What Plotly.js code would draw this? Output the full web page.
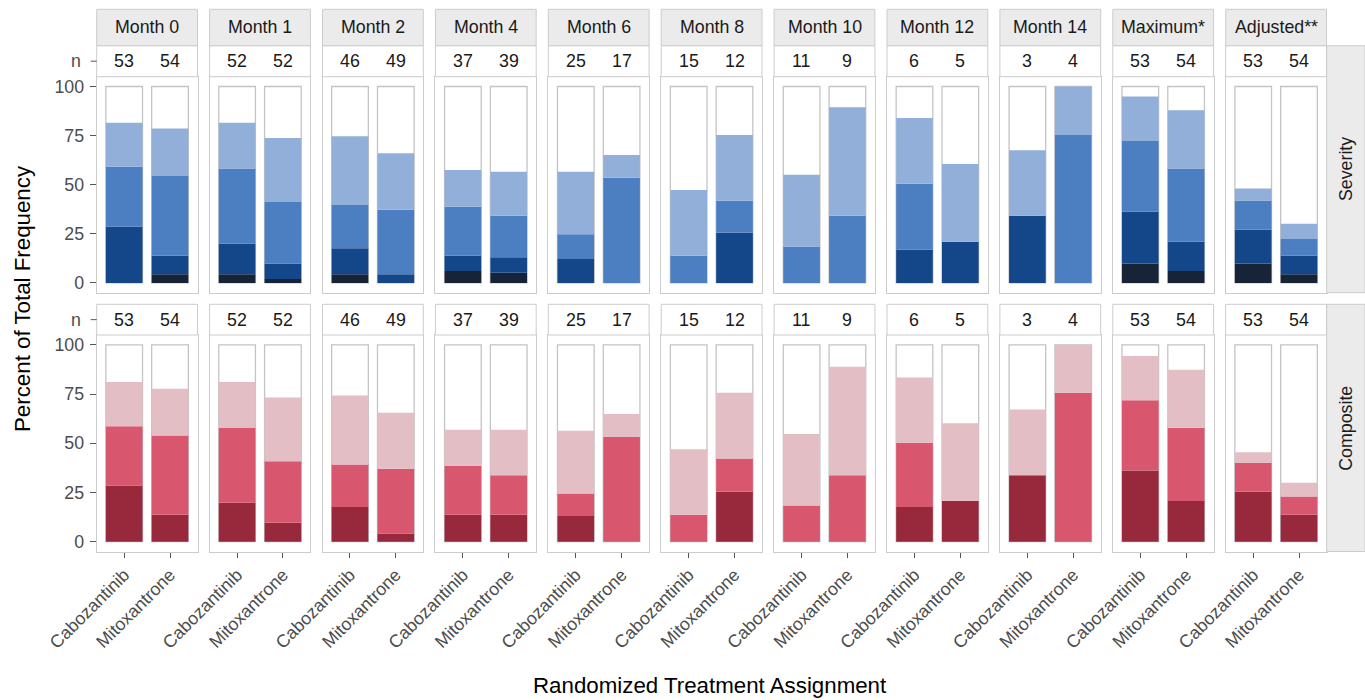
<!DOCTYPE html>
<html>
<head>
<meta charset="utf-8">
<script src="https://cdn.plot.ly/plotly-3.0.1.min.js"></script>
<style>html,body{margin:0;padding:0;background:#fff;}#chart{width:1365px;height:700px;}</style>
</head>
<body>
<div id="chart"></div>
<script>
// ---------- DATA ----------
const panels = ['Month 0','Month 1','Month 2','Month 4','Month 6','Month 8','Month 10','Month 12','Month 14','Maximum*','Adjusted**'];
const arms = ['Cabozantinib','Mitoxantrone'];
const nCabo = [53,52,46,37,25,15,11,6,3,53,53];
const nMito = [54,52,49,39,17,12,9,5,4,54,54];
const rowNames = ['Severity','Composite'];

// Severity segments (percent), bottom to top: grade 4, grade 3, grade 2, grade 1
const sevG4Cabo = [0,4.4,4.4,6.0,0,0,0,0,0,9.9,9.9];
const sevG3Cabo = [28.6,15.7,13.3,7.8,12.2,0,0,17.0,34.2,26.5,17.1];
const sevG2Cabo = [30.6,38.2,21.9,25.0,12.6,13.8,18.5,33.5,0,35.9,15.0];
const sevG1Cabo = [22.4,23.3,35.1,18.7,31.8,33.5,36.6,33.5,33.3,22.6,6.1];
const sevG4Mito = [4.4,2.0,0,5.1,0,0,0,0,0,6.0,4.4];
const sevG3Mito = [9.4,7.9,4.4,8.0,0,25.5,0,20.9,0,14.9,9.4];
const sevG2Mito = [40.6,31.3,32.8,21.1,53.6,16.3,34.2,0,75.3,37.4,8.5];
const sevG1Mito = [24.2,32.6,28.8,22.4,11.5,33.5,55.3,39.6,24.7,29.6,7.8];

// Composite segments (percent), bottom to top: high, medium, low
const compHiCabo  = [28.5,19.8,17.6,13.7,13.0,0,0,17.6,33.8,36.1,25.3];
const compMedCabo = [30.1,38.0,21.6,24.8,11.5,13.7,18.4,32.6,0,35.7,14.7];
const compLoCabo  = [22.5,23.3,35.0,18.4,31.8,33.3,36.3,33.2,33.3,22.5,5.4];
const compHiMito  = [13.7,9.6,4.2,13.7,0,25.3,0,20.6,0,20.6,13.7];
const compMedMito = [40.2,31.3,32.8,20.1,53.2,16.9,33.8,0,75.7,37.3,9.3];
const compLoMito  = [23.8,32.4,28.5,23.1,11.7,33.5,55.1,39.5,24.3,29.4,6.9];

const yTicks = [0,25,50,75,100];
const xTitle = 'Randomized Treatment Assignment';
const yTitle = 'Percent of Total Frequency';

// ---------- STYLE ----------
const W = 1365, H = 700;
const FONT = 'Liberation Sans, Arial, Helvetica, sans-serif';
const SMALL = 17.8, BIG = 22.3;
const sevColors = ['#172336','#14468a','#4b7fc1','#91afd8'];
const compColors = ['#98283c','#d8566e','#e4bec5'];
const borderCol = '#cccccc';
const barLine = '#c4c4c4';
const stripFill = '#ebebeb';
const tickCol = '#555555';

const panelLeft0 = 96.7, pitch = 112.9, panelW = 100.8;
const rows = [
  {plotTop:76.7, plotBot:292.7, nTop:45.7, nBot:76.7},
  {plotTop:335.0, plotBot:551.5, nTop:304.3, nBot:335.0}
];
const stripTop = 9.3, stripBot = 45.7;
const rightStripL = 1326.7, rightStripR = 1365;

const px = x => x / W;
const py = y => 1 - y / H;

const sevData = [[sevG4Cabo,sevG4Mito],[sevG3Cabo,sevG3Mito],[sevG2Cabo,sevG2Mito],[sevG1Cabo,sevG1Mito]];
const compData = [[compHiCabo,compHiMito],[compMedCabo,compMedMito],[compLoCabo,compLoMito]];

const traces = [];
const layout = {
  width: W, height: H,
  margin: {l:0, r:0, t:0, b:0},
  paper_bgcolor: '#ffffff', plot_bgcolor: '#ffffff',
  barmode: 'overlay',
  showlegend: false,
  font: {family: FONT, size: SMALL, color: '#1a1a1a'},
  shapes: [], annotations: []
};

for (let r = 0; r < 2; r++) {
  const R = rows[r];
  const data = r === 0 ? sevData : compData;
  const cols = r === 0 ? sevColors : compColors;
  for (let p = 0; p < panels.length; p++) {
    const k = r * panels.length + p + 1;
    const xa = 'x' + (k === 1 ? '' : k), ya = 'y' + (k === 1 ? '' : k);
    const left = panelLeft0 + pitch * p, right = left + panelW;

    // background 100% bar with outline
    traces.push({
      type: 'bar', x: arms, y: [100, 100], base: [0, 0], width: 0.8,
      xaxis: xa, yaxis: ya, hoverinfo: 'skip',
      marker: {color: '#ffffff', line: {color: barLine, width: 1.3}}
    });
    let cumC = 0, cumM = 0;
    for (let l = 0; l < data.length; l++) {
      const vc = data[l][0][p], vm = data[l][1][p];
      traces.push({
        type: 'bar', x: arms, y: [vc, vm], base: [cumC, cumM], width: 0.8,
        xaxis: xa, yaxis: ya,
        marker: {color: cols[l], line: {width: 0}}
      });
      cumC += vc; cumM += vm;
    }

    const bottomRow = r === 1, firstCol = p === 0;
    layout['xaxis' + (k === 1 ? '' : k)] = {
      domain: [px(left), px(right)], anchor: ya,
      type: 'category', categoryarray: arms, range: [-0.6, 1.6],
      showline: true, mirror: true, linecolor: borderCol, linewidth: 1,
      showgrid: false, zeroline: false, fixedrange: true,
      ticks: bottomRow ? 'outside' : '', ticklen: 5, tickcolor: tickCol, tickwidth: 1,
      showticklabels: bottomRow, tickangle: -45,
      tickfont: {family: FONT, size: SMALL, color: '#4d4d4d'}
    };
    layout['yaxis' + (k === 1 ? '' : k)] = {
      domain: [py(R.plotBot), py(R.plotTop)], anchor: xa,
      range: [-5, 105], tickvals: yTicks, ticktext: yTicks.map(String),
      showline: true, mirror: true, linecolor: borderCol, linewidth: 1,
      showgrid: false, zeroline: false, fixedrange: true,
      ticks: firstCol ? 'outside' : '', ticklen: 6, tickcolor: tickCol, tickwidth: 1,
      showticklabels: firstCol, ticklabelstandoff: 2,
      tickfont: {family: FONT, size: SMALL, color: '#4d4d4d'}
    };

    // n row box
    layout.shapes.push({type:'rect', xref:'paper', yref:'paper',
      x0: px(left), x1: px(right), y0: py(R.nBot), y1: py(R.nTop),
      fillcolor:'#ffffff', line:{color: borderCol, width: 1}});
    const nVals = [nCabo[p], nMito[p]];
    for (let a = 0; a < 2; a++) {
      layout.annotations.push({xref: xa, yref: 'paper', x: arms[a], y: py((R.nTop + R.nBot) / 2),
        text: String(nVals[a]), showarrow: false, xanchor: 'center', yanchor: 'middle',
        font: {family: FONT, size: SMALL, color: '#1a1a1a'}});
    }
    // top strip
    if (r === 0) {
      layout.shapes.push({type:'rect', xref:'paper', yref:'paper',
        x0: px(left), x1: px(right), y0: py(stripBot), y1: py(stripTop),
        fillcolor: stripFill, line:{color: borderCol, width: 1}});
      layout.annotations.push({xref:'paper', yref:'paper', x: px((left + right) / 2), y: py((stripTop + stripBot) / 2),
        text: panels[p], showarrow: false, xanchor:'center', yanchor:'middle',
        font: {family: FONT, size: SMALL, color: '#1a1a1a'}});
    }
  }
  // "n" label with tick
  const nMid = (R.nTop + R.nBot) / 2;
  layout.annotations.push({xref:'paper', yref:'paper', x: px(83), y: py(nMid),
    text: 'n', showarrow: false, xanchor:'right', yanchor:'middle',
    font: {family: FONT, size: SMALL, color: '#4d4d4d'}});
  layout.shapes.push({type:'line', xref:'paper', yref:'paper',
    x0: px(panelLeft0 - 6), x1: px(panelLeft0), y0: py(nMid), y1: py(nMid),
    line: {color: tickCol, width: 1}});
  // right strip
  layout.shapes.push({type:'rect', xref:'paper', yref:'paper',
    x0: px(rightStripL), x1: px(rightStripR), y0: py(R.plotBot), y1: py(R.nTop),
    fillcolor: stripFill, line:{color: borderCol, width: 1}});
  layout.annotations.push({xref:'paper', yref:'paper', x: px((rightStripL + rightStripR) / 2), y: py((R.nTop + R.plotBot) / 2),
    text: rowNames[r], showarrow: false, textangle: -90, xanchor:'center', yanchor:'middle',
    font: {family: FONT, size: SMALL, color: '#1a1a1a'}});
}

// axis titles
layout.annotations.push({xref:'paper', yref:'paper', x: px(710), y: py(685),
  text: xTitle, showarrow:false, xanchor:'center', yanchor:'middle',
  font:{family: FONT, size: BIG, color:'#000000'}});
layout.annotations.push({xref:'paper', yref:'paper', x: px(22), y: py(299),
  text: yTitle, showarrow:false, textangle:-90, xanchor:'center', yanchor:'middle',
  font:{family: FONT, size: BIG, color:'#000000'}});

Plotly.newPlot('chart', traces, layout, {displayModeBar: false, staticPlot: true});
</script>
</body>
</html>
